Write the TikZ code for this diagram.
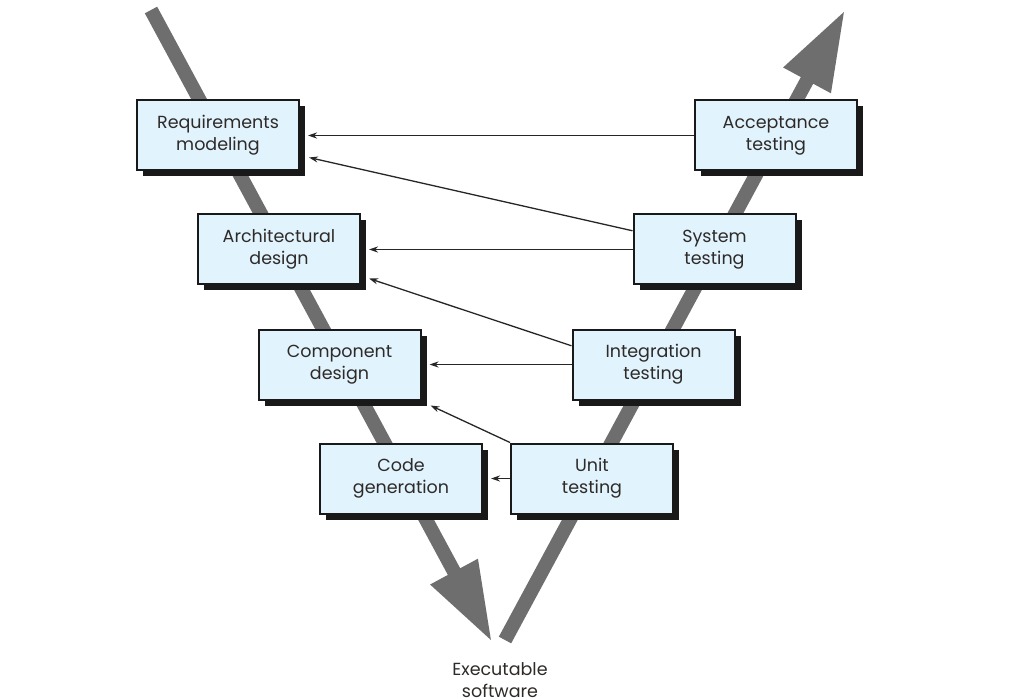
\documentclass[tikz,border=0pt]{standalone}
\usepackage{fontspec}
\setmainfont{Poppins}
\usetikzlibrary{arrows.meta,shadows,calc}
\definecolor{boxfill}{HTML}{E1F3FD}
\definecolor{vgray}{HTML}{6E6E6E}
\definecolor{txt}{HTML}{2E2A28}
\tikzset{
  vbox/.style={rectangle, draw=black!90, line width=2pt, fill=boxfill,
    minimum width=162pt, minimum height=70pt, align=center, inner sep=0pt,
    font=\fontsize{17.5}{22}\selectfont, text=txt,
    general shadow={fill=black!90, shadow xshift=6pt, shadow yshift=-6pt}},
  bigarrow/.style={line width=14pt, draw=vgray, line cap=butt,
    -{Triangle[width=50pt,length=80pt]}},
  thinarrow/.style={line width=1.3pt, draw=black!85, -{Stealth[length=9pt,width=6pt]}},
  lbl/.style={align=center, font=\fontsize{17.5}{22}\selectfont, text=txt}
}
\begin{document}
\begin{tikzpicture}[x=1pt,y=-1pt]
\useasboundingbox (0,0) rectangle (1019,700);
% big V arrows
\coordinate (ltop) at (151,10);
\coordinate (ltip) at (492,642);
\coordinate (rbot) at (505,640);
\coordinate (rtip) at (845,10);
\draw[bigarrow] (ltop) -- (ltip);
\draw[bigarrow] (rbot) -- (rtip);
% boxes
\node[vbox] (req)  at (218,135.5) {Requirements\\modeling};
\node[vbox] (acc)  at (776,135.5) {Acceptance\\testing};
\node[vbox] (arch) at (279,249.5) {Architectural\\design};
\node[vbox] (sys)  at (714.5,249.5) {System\\testing};
\node[vbox] (comp) at (339.5,364.5) {Component\\design};
\node[vbox] (int)  at (653.5,364.5) {Integration\\testing};
\node[vbox] (code) at (401,478.5) {Code\\generation};
\node[vbox] (unit) at (592,478.5) {Unit\\testing};
\node[lbl] (exe) at (500,680) {Executable\\software};
% thin arrows
\draw[thinarrow] (acc.west) -- ($(req.east)+(8,0)$);
\draw[thinarrow] ($(sys.north west)!0.24!(sys.south west)$) -- ($(req.south east)+(9,-14)$);
\draw[thinarrow] (sys.west) -- ($(arch.east)+(8,0)$);
\draw[thinarrow] ($(int.north west)!0.24!(int.south west)$) -- ($(arch.south east)+(8,-7)$);
\draw[thinarrow] (int.west) -- ($(comp.east)+(8,0)$);
\draw[thinarrow] (unit.north west) -- ($(comp.south east)+(9,5)$);
\draw[thinarrow] (unit.west) -- ($(code.east)+(8,0)$);
\end{tikzpicture}
\end{document}
